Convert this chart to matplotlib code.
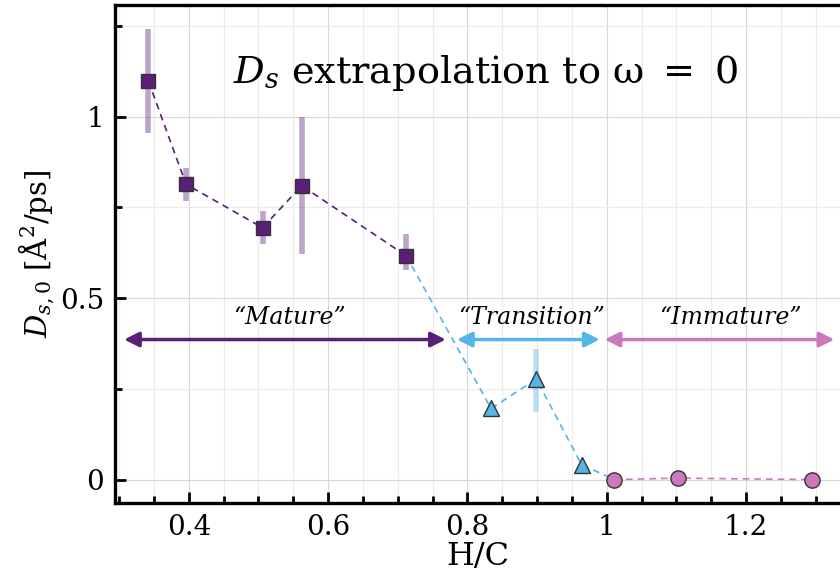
import matplotlib
matplotlib.use("Agg")
import matplotlib.pyplot as plt
from matplotlib.ticker import MultipleLocator, FuncFormatter

plt.rcParams["font.family"] = "DejaVu Serif"
plt.rcParams["mathtext.fontset"] = "dejavuserif"

# data
mature_hc = [0.342, 0.396, 0.506, 0.562, 0.712]
mature_ds = [1.098, 0.814, 0.694, 0.810, 0.617]
mature_lo = [0.954, 0.768, 0.648, 0.623, 0.579]
mature_hi = [1.242, 0.860, 0.741, 0.998, 0.678]

trans_hc = [0.834, 0.899, 0.964]
trans_ds = [0.196, 0.277, 0.041]
trans_lo = [0.196, 0.185, 0.041]
trans_hi = [0.196, 0.359, 0.041]

immat_hc = [1.011, 1.102, 1.295]
immat_ds = [0.000, 0.004, 0.000]

regions = ["\u201cMature\u201d", "\u201cTransition\u201d", "\u201cImmature\u201d"]
region_start = [0.307, 0.785, 0.997]
region_end = [0.769, 0.990, 1.327]
region_label_x = [0.545, 0.892, 1.177]

PURPLE = "#5b1f78"
BLUE = "#56b4e9"
PINK = "#cc79bc"
EDGE = "#333333"

fig = plt.figure(figsize=(8.4, 5.79), dpi=100)
ax = fig.add_axes([115 / 840, 1 - 503 / 579, 1 - 115 / 840, 498 / 579])

# error bars
for x, lo, hi in zip(mature_hc, mature_lo, mature_hi):
    ax.plot([x, x], [lo, hi], color=PURPLE, alpha=0.4, lw=4, solid_capstyle="butt", zorder=2)
for x, lo, hi in zip(trans_hc, trans_lo, trans_hi):
    if hi > lo:
        ax.plot([x, x], [lo, hi], color=BLUE, alpha=0.4, lw=4, solid_capstyle="butt", zorder=2)

# connecting dashed lines
ax.plot(mature_hc, mature_ds, ls=(0, (4, 3)), color=PURPLE, lw=1.2, zorder=3)
ax.plot([mature_hc[-1]] + trans_hc + [immat_hc[0]], [mature_ds[-1]] + trans_ds + [immat_ds[0]],
        ls=(0, (4, 3)), color=BLUE, lw=1.2, zorder=3)
ax.plot(immat_hc, immat_ds, ls=(0, (4, 3)), color=PINK, lw=1.2, zorder=3)

# markers
ax.plot(mature_hc, mature_ds, "s", ms=9.5, mfc=PURPLE, mec=EDGE, mew=1.0, zorder=4)
ax.plot(trans_hc, trans_ds, "^", ms=11, mfc=BLUE, mec=EDGE, mew=1.0, zorder=4)
ax.plot(immat_hc, immat_ds, "o", ms=11, mfc=PINK, mec=EDGE, mew=1.0, zorder=4)

# region arrows
arrow_y = 0.386
for name, x0, x1, lx, c in zip(regions, region_start, region_end, region_label_x, [PURPLE, BLUE, PINK]):
    ax.annotate("", xy=(x0, arrow_y), xytext=(x1, arrow_y),
                arrowprops=dict(arrowstyle="<|-|>", color=c, lw=2.5,
                                mutation_scale=22, shrinkA=0, shrinkB=0), zorder=5)
    ax.text(lx, 0.448, name, fontsize=17, style="italic", ha="center", va="center")

ax.text(0.826, 1.12, r"$D_s$ extrapolation to ω $=$ 0", fontsize=27.5, ha="center", va="center")

ax.set_xlim(0.294, 1.335)
ax.set_ylim(-0.0645, 1.308)

ax.xaxis.set_major_locator(MultipleLocator(0.2))
ax.xaxis.set_minor_locator(MultipleLocator(0.05))
ax.yaxis.set_major_locator(MultipleLocator(0.5))
ax.yaxis.set_minor_locator(MultipleLocator(0.25))
fmt = FuncFormatter(lambda v, p: f"{v:g}")
ax.xaxis.set_major_formatter(fmt)
ax.yaxis.set_major_formatter(fmt)

ax.grid(which="major", color="#d8d8d8", lw=0.8)
ax.grid(which="minor", color="#ececec", lw=0.8)
ax.set_axisbelow(True)

ax.tick_params(which="both", direction="in", labelsize=20, width=2, top=False, right=False)
ax.tick_params(which="major", length=8, pad=8)
ax.tick_params(which="minor", length=5)
for side in ["left", "bottom", "top"]:
    ax.spines[side].set_linewidth(2.4)
ax.spines["right"].set_visible(False)

ax.set_xlabel("H/C", fontsize=23, labelpad=0)
ax.set_ylabel(r"$D_{s,0}$ [Å$^2$/ps]", fontsize=21, labelpad=2)

fig.savefig("out.png", dpi=100)
